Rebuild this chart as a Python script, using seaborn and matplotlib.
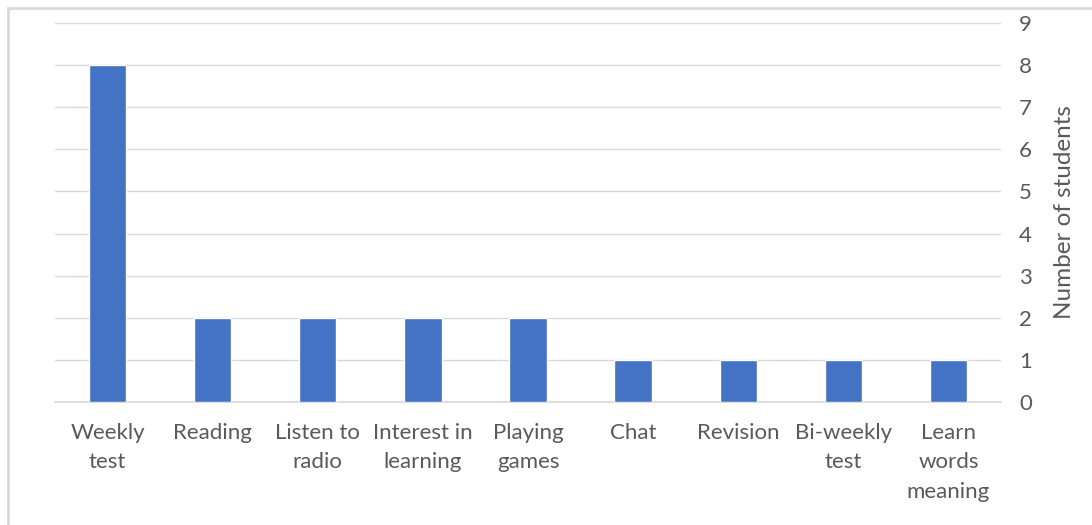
import matplotlib
matplotlib.use("Agg")
import matplotlib.pyplot as plt
import seaborn as sns
import pandas as pd
from matplotlib.patches import Rectangle

categories = ["Weekly\ntest", "Reading", "Listen to\nradio", "Interest in\nlearning",
              "Playing\ngames", "Chat", "Revision", "Bi-weekly\ntest", "Learn\nwords\nmeaning"]
students = [8, 2, 2, 2, 2, 1, 1, 1, 1]
yticks = list(range(0, 10))

df = pd.DataFrame({"activity": categories, "students": students})

sns.set_theme(style="white")
plt.rcParams['font.family'] = ['Lato', 'DejaVu Sans']
text_color = "#595959"

fig = plt.figure(figsize=(10.92, 5.25), dpi=100)
fig.patches.append(Rectangle((8 / 1092, -0.1), 1.2, 1 - 8 / 525 + 0.1,
                             transform=fig.transFigure, fill=False,
                             edgecolor="#d9d9d9", linewidth=2, zorder=0))
ax = fig.add_axes([55 / 1092, 1 - 402 / 525, (1001 - 55) / 1092, (402 - 23) / 525])

sns.barplot(data=df, x="activity", y="students", color="#4472C4", saturation=1,
            width=0.355, ax=ax, zorder=3)

ax.set_ylim(0, 9)
ax.set_yticks(yticks)
ax.yaxis.tick_right()
ax.yaxis.set_label_position("right")
ax.grid(axis="y", color="#d9d9d9", linewidth=1, zorder=0)
ax.set_axisbelow(True)
for s in ["top", "left", "right"]:
    ax.spines[s].set_visible(False)
ax.spines["bottom"].set_color("#d9d9d9")
ax.tick_params(axis="both", length=0, labelsize=16, colors=text_color)
ax.set_xticks(range(len(categories)))
ax.set_xticklabels(categories, linespacing=1.6)
ax.tick_params(axis="x", pad=15)
ax.tick_params(axis="y", pad=13)
ax.set_xlabel("")
ax.set_ylabel("Number of students", fontsize=17.5, color=text_color, labelpad=16)

fig.savefig("out.png", dpi=100)
